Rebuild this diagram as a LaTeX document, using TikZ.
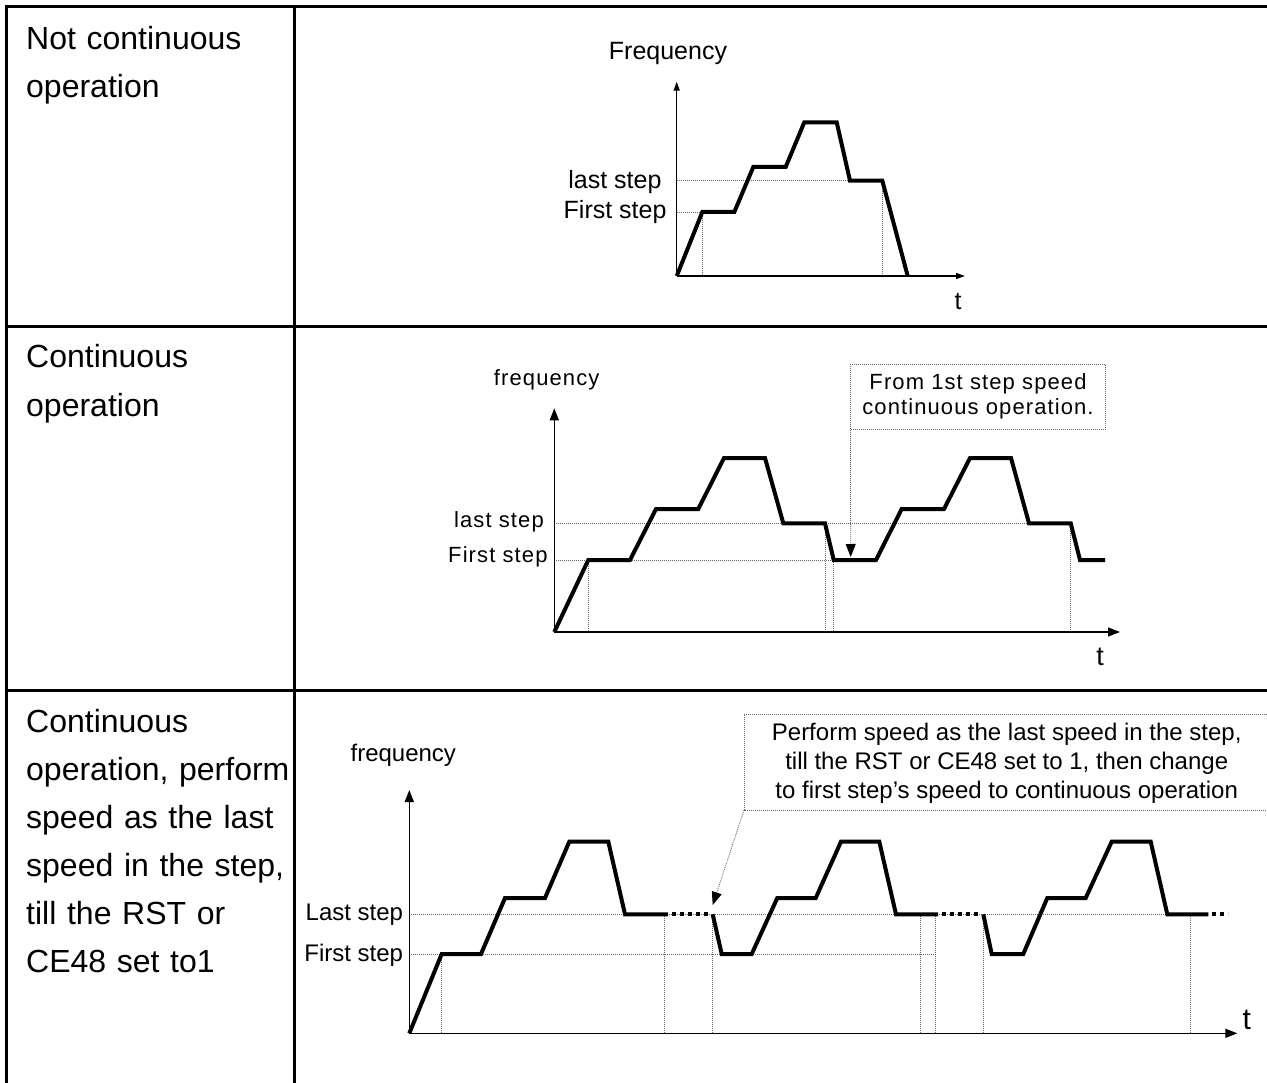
\documentclass[tikz,border=0pt]{standalone}
\usepackage{fontspec}
\setmainfont{Liberation Sans}
\usetikzlibrary{arrows.meta}

\begin{document}
\begin{tikzpicture}[x=1pt,y=-1pt,
  rowtxt/.style={anchor=base west,align=left,text width=266pt,inner sep=0pt,font=\fontsize{32}{48}\selectfont},
  lblA/.style={inner sep=0pt,font=\fontsize{25}{29}\selectfont},
  lblB/.style={inner sep=0pt,font=\fontsize{22}{25}\selectfont\addfontfeature{LetterSpace=5}},
  lblC/.style={inner sep=0pt,font=\fontsize{24}{29}\selectfont},
  rule/.style={line width=3pt},
  ax/.style={line width=1.5pt,-{Triangle[length=12pt,width=9pt]}},
  axs/.style={ax,-{Triangle[length=9pt,width=6pt]}},
  prof/.style={line width=4pt},
  pdots/.style={line width=4pt,dash pattern=on 4pt off 4pt},
  guide/.style={line width=0.8pt,dash pattern=on 1pt off 1pt,black!60},
  cbox/.style={draw,line width=0.8pt,dash pattern=on 1pt off 1pt,black!60,text=black,inner sep=0pt},
  ptr/.style={guide,-{Triangle[length=13pt,width=10pt,black]}}]
\useasboundingbox (0,0) rectangle (1267,1083);
% ---- table ----
\draw[rule] (6,7) -- (1267,7);
\draw[rule] (6,327) -- (1267,327);
\draw[rule] (6,690) -- (1267,690);
\draw[rule] (6,5.5) -- (6,1083);
\draw[rule] (294,5.5) -- (294,1083);
\node[rowtxt] (r1) at (26,50) {Not continuous\\operation};
\node[rowtxt] (r2) at (26,368) {Continuous\\operation};
\node[rowtxt] (r3) at (26,732) {Continuous\\operation, perform\\speed as the last\\speed in the step,\\till the RST or\\CE48 set to1};
% ---- row 1: not continuous ----
\coordinate (o1) at (676.7,276);
\coordinate (y1) at (676.7,81.7);
\coordinate (x1) at (965,276);
\draw[guide] (676.7,212) -- (702.3,212) -- (702.3,276);
\draw[guide] (676.7,180.7) -- (850,180.7);
\draw[guide] (882.3,180.7) -- (882.3,276);
\draw[axs] (o1) -- (y1);
\draw[axs] (o1) -- (x1);
\draw[prof] (o1) -- (702.3,212) -- (734.3,212) -- (753.3,167) -- (785.7,167) -- (804.3,122.3)
  -- (836.7,122.3) -- (850,180.7) -- (882.3,180.7) -- (907.7,276);
\node[lblA] (f1) at (668,53) {Frequency};
\node[lblA,anchor=east] (ls1) at (661.7,181.7) {last step};
\node[lblA,anchor=east] (fs1) at (666.7,211.7) {First step};
\node[lblA] (t1) at (958,302) {t};
% ---- row 2: continuous ----
\coordinate (o2) at (554.3,632);
\coordinate (y2) at (554.3,408.3);
\coordinate (x2) at (1120,632);
\draw[guide] (554.3,523.3) -- (1029,523.3);
\draw[guide] (554.3,560) -- (833.7,560);
\foreach \gx/\gy in {588.3/560,825/523.3,833.7/560,1070.7/523.3}
  \draw[guide] (\gx,\gy) -- (\gx,632);
\draw[ax] (o2) -- (y2);
\draw[ax] (o2) -- (x2);
\draw[prof] (o2) -- (588.3,560) -- (630,560) -- (656,509) -- (698.3,509) -- (724,458) -- (765,458)
  -- (783.3,523.3) -- (825,523.3) -- (833.7,560) -- (876,560) -- (901.7,509) -- (944,509)
  -- (970,458) -- (1011,458) -- (1029,523.3) -- (1070.7,523.3) -- (1080,560) -- (1105,560);
\node[lblB] (f2) at (546.7,380) {frequency};
\node[lblB,anchor=east] (ls2) at (544,521.7) {last step};
\node[lblB,anchor=east] (fs2) at (547.7,556.7) {First step};
\node[inner sep=0pt,font=\fontsize{27}{30}\selectfont] (t2) at (1100,656.7) {t};
\node[cbox,align=center,minimum width=254.3pt,minimum height=65.3pt,lblB] (cb2) at (978,396.7)
  {From 1st step speed\\continuous operation.};
\coordinate (a2) at (850.7,557);
\draw[ptr] (cb2.south west) -- (a2);
% ---- row 3: continuous, hold last step ----
\coordinate (o3) at (409.3,1033.3);
\coordinate (y3) at (409.3,790);
\coordinate (x3) at (1237.3,1033.3);
\draw[guide] (409.3,914.3) -- (1167.3,914.3);
\draw[guide] (409.3,954) -- (936,954);
\draw[guide] (441.7,954) -- (441.7,1033.3);
\foreach \gx in {664.3,712.7,920,935.7,983.3,1190.7}
  \draw[guide] (\gx,914.3) -- (\gx,1033.3);
\draw[ax] (o3) -- (y3);
\draw[ax] (o3) -- (x3);
\draw[prof] (o3) -- (441.7,954) -- (481,954) -- (505,898) -- (545,898) -- (569.3,841.7)
  -- (608.3,841.7) -- (625,914.3) -- (668,914.3);
\draw[pdots] (672,914.3) -- (708,914.3);
\draw[prof] (712.7,914.3) -- (721.7,954) -- (751.7,954) -- (777.3,898) -- (815.7,898)
  -- (841,841.7) -- (879.3,841.7) -- (896,914.3) -- (938,914.3);
\draw[pdots] (942,914.3) -- (978,914.3);
\draw[prof] (983.3,914.3) -- (991.7,954) -- (1023.3,954) -- (1047.3,898) -- (1085.7,898)
  -- (1111.7,841.7) -- (1150.7,841.7) -- (1167.3,914.3) -- (1208.3,914.3);
\draw[pdots] (1212,914.3) -- (1228,914.3);
\node[lblC] (f3) at (403.3,755) {frequency};
\node[lblC,anchor=east] (ls3) at (403.3,915) {Last step};
\node[lblC,anchor=east] (fs3) at (403.3,955) {First step};
\node[inner sep=0pt,font=\fontsize{30}{34}\selectfont] (t3) at (1246.7,1020) {t};
\node[lblC,align=center] (n3) at (1006.7,763)
  {Perform speed as the last speed in the step,\\till the RST or CE48 set to 1, then change\\to first step's speed to continuous operation};
\coordinate (n3a) at (1267,714.3);
\coordinate (n3b) at (744,810);
\coordinate (n3c) at (1267,810);
\coordinate (a3) at (712.7,905);
\draw[guide] (n3a) -| (n3b) -- (n3c);
\draw[ptr] (n3b) -- (a3);
\end{tikzpicture}
\end{document}
